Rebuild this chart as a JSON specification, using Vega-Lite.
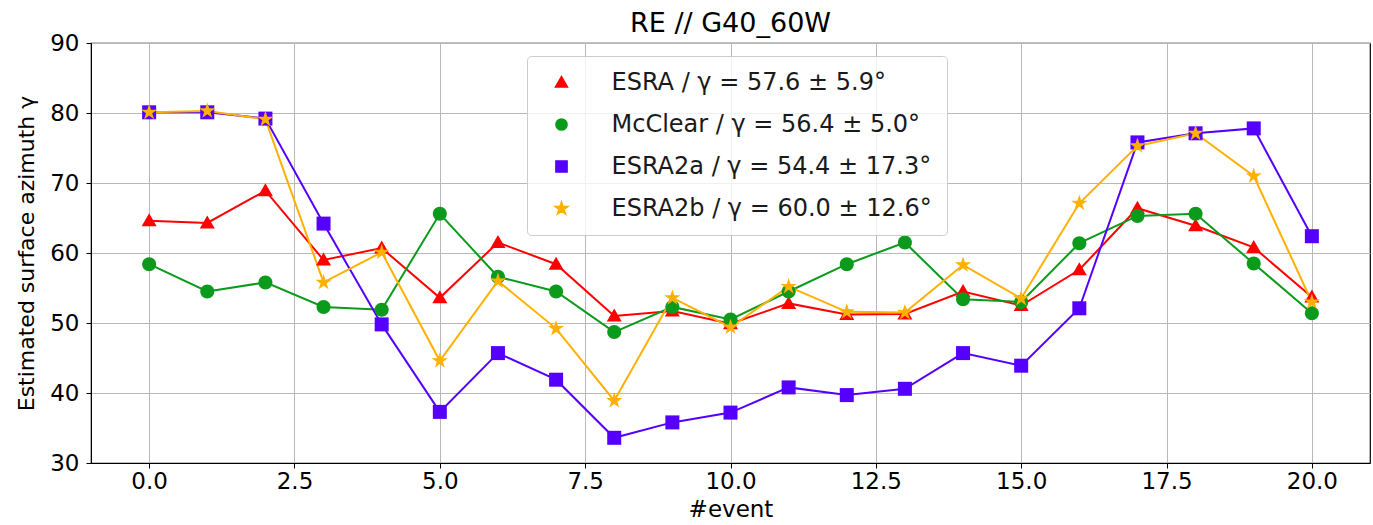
{
  "$schema": "https://vega.github.io/schema/vega-lite/v6.json",
  "autosize": {"type": "none"},
  "width": 1279,
  "height": 420,
  "padding": {"left": 91, "top": 43, "right": 3, "bottom": 62},
  "background": "white",
  "title": {"text": "RE // G40_60W", "fontSize": 27, "font": "DejaVu Sans", "fontWeight": "normal", "color": "#000000", "offset": -6},
  "config": {
    "font": "DejaVu Sans",
    "view": {"stroke": "#000000", "strokeWidth": 1.2},
    "axis": {
      "domainColor": "#000000", "tickColor": "#000000", "labelColor": "#000000", "titleColor": "#000000",
      "gridColor": "#b8b8b8", "gridWidth": 1, "tickSize": 5, "labelFontSize": 23, "titleFontSize": 23,
      "titleFontWeight": "normal", "labelFont": "DejaVu Sans", "titleFont": "DejaVu Sans"
    }
  },
  "datasets": {
    "pts": [
      {"event": 0, "series": "ESRA", "value": 64.6}, {"event": 1, "series": "ESRA", "value": 64.3}, {"event": 2, "series": "ESRA", "value": 68.9},
      {"event": 3, "series": "ESRA", "value": 59.0}, {"event": 4, "series": "ESRA", "value": 60.7}, {"event": 5, "series": "ESRA", "value": 53.6},
      {"event": 6, "series": "ESRA", "value": 61.5}, {"event": 7, "series": "ESRA", "value": 58.4}, {"event": 8, "series": "ESRA", "value": 51.0},
      {"event": 9, "series": "ESRA", "value": 51.7}, {"event": 10, "series": "ESRA", "value": 49.9}, {"event": 11, "series": "ESRA", "value": 52.8},
      {"event": 12, "series": "ESRA", "value": 51.2}, {"event": 13, "series": "ESRA", "value": 51.3}, {"event": 14, "series": "ESRA", "value": 54.5},
      {"event": 15, "series": "ESRA", "value": 52.5}, {"event": 16, "series": "ESRA", "value": 57.6}, {"event": 17, "series": "ESRA", "value": 66.4},
      {"event": 18, "series": "ESRA", "value": 63.9}, {"event": 19, "series": "ESRA", "value": 60.8}, {"event": 20, "series": "ESRA", "value": 53.7},
      {"event": 0, "series": "McClear", "value": 58.4}, {"event": 1, "series": "McClear", "value": 54.5}, {"event": 2, "series": "McClear", "value": 55.8},
      {"event": 3, "series": "McClear", "value": 52.3}, {"event": 4, "series": "McClear", "value": 51.9}, {"event": 5, "series": "McClear", "value": 65.6},
      {"event": 6, "series": "McClear", "value": 56.6}, {"event": 7, "series": "McClear", "value": 54.5}, {"event": 8, "series": "McClear", "value": 48.7},
      {"event": 9, "series": "McClear", "value": 52.3}, {"event": 10, "series": "McClear", "value": 50.5}, {"event": 11, "series": "McClear", "value": 54.5},
      {"event": 12, "series": "McClear", "value": 58.4}, {"event": 13, "series": "McClear", "value": 61.5}, {"event": 14, "series": "McClear", "value": 53.4},
      {"event": 15, "series": "McClear", "value": 53.0}, {"event": 16, "series": "McClear", "value": 61.4}, {"event": 17, "series": "McClear", "value": 65.3},
      {"event": 18, "series": "McClear", "value": 65.6}, {"event": 19, "series": "McClear", "value": 58.5}, {"event": 20, "series": "McClear", "value": 51.4},
      {"event": 0, "series": "ESRA2a", "value": 80.1}, {"event": 1, "series": "ESRA2a", "value": 80.1}, {"event": 2, "series": "ESRA2a", "value": 79.2},
      {"event": 3, "series": "ESRA2a", "value": 64.2}, {"event": 4, "series": "ESRA2a", "value": 49.8}, {"event": 5, "series": "ESRA2a", "value": 37.3},
      {"event": 6, "series": "ESRA2a", "value": 45.7}, {"event": 7, "series": "ESRA2a", "value": 41.9}, {"event": 8, "series": "ESRA2a", "value": 33.6},
      {"event": 9, "series": "ESRA2a", "value": 35.8}, {"event": 10, "series": "ESRA2a", "value": 37.2}, {"event": 11, "series": "ESRA2a", "value": 40.8},
      {"event": 12, "series": "ESRA2a", "value": 39.7}, {"event": 13, "series": "ESRA2a", "value": 40.6}, {"event": 14, "series": "ESRA2a", "value": 45.7},
      {"event": 15, "series": "ESRA2a", "value": 43.9}, {"event": 16, "series": "ESRA2a", "value": 52.1}, {"event": 17, "series": "ESRA2a", "value": 75.8},
      {"event": 18, "series": "ESRA2a", "value": 77.1}, {"event": 19, "series": "ESRA2a", "value": 77.8}, {"event": 20, "series": "ESRA2a", "value": 62.4},
      {"event": 0, "series": "ESRA2b", "value": 80.1}, {"event": 1, "series": "ESRA2b", "value": 80.3}, {"event": 2, "series": "ESRA2b", "value": 79.1},
      {"event": 3, "series": "ESRA2b", "value": 55.8}, {"event": 4, "series": "ESRA2b", "value": 60.1}, {"event": 5, "series": "ESRA2b", "value": 44.6},
      {"event": 6, "series": "ESRA2b", "value": 56.0}, {"event": 7, "series": "ESRA2b", "value": 49.2}, {"event": 8, "series": "ESRA2b", "value": 38.9},
      {"event": 9, "series": "ESRA2b", "value": 53.6}, {"event": 10, "series": "ESRA2b", "value": 49.4}, {"event": 11, "series": "ESRA2b", "value": 55.2},
      {"event": 12, "series": "ESRA2b", "value": 51.6}, {"event": 13, "series": "ESRA2b", "value": 51.5}, {"event": 14, "series": "ESRA2b", "value": 58.3},
      {"event": 15, "series": "ESRA2b", "value": 53.5}, {"event": 16, "series": "ESRA2b", "value": 67.1}, {"event": 17, "series": "ESRA2b", "value": 75.3},
      {"event": 18, "series": "ESRA2b", "value": 77.1}, {"event": 19, "series": "ESRA2b", "value": 71.0}, {"event": 20, "series": "ESRA2b", "value": 53.0}
    ]
  },
  "data": {"name": "pts"},
  "encoding": {
    "x": {
      "field": "event", "type": "quantitative",
      "scale": {"domain": [-1, 21], "nice": false, "zero": false},
      "axis": {"values": [0, 2.5, 5, 7.5, 10, 12.5, 15, 17.5, 20], "format": ".1f", "title": "#event", "labelPadding": 2, "titlePadding": 5, "grid": true}
    },
    "y": {
      "field": "value", "type": "quantitative",
      "scale": {"domain": [30, 90], "nice": false, "zero": false},
      "axis": {"values": [30, 40, 50, 60, 70, 80, 90], "title": "Estimated surface azimuth γ", "titleFontSize": 22, "labelPadding": 7, "titlePadding": 11, "grid": true}
    },
    "color": {
      "field": "series", "type": "nominal",
      "scale": {"domain": ["ESRA", "McClear", "ESRA2a", "ESRA2b"], "range": ["#ff0000", "#0c9a1c", "#5500ff", "#ffb000"]},
      "legend": {
        "orient": "none", "legendX": 436, "legendY": 13, "title": null,
        "labelFontSize": 24, "labelFont": "DejaVu Sans", "labelColor": "#1a1a1a", "labelLimit": 600,
        "symbolSize": 256, "symbolOffset": 8, "labelOffset": 38, "rowPadding": 18,
        "padding": 14.5, "strokeColor": "#cccccc", "fillColor": "rgba(255,255,255,0.8)", "cornerRadius": 4,
        "labelExpr": "datum.value === 'ESRA' ? 'ESRA / γ = 57.6 ± 5.9°' : datum.value === 'McClear' ? 'McClear / γ = 56.4 ± 5.0°' : datum.value === 'ESRA2a' ? 'ESRA2a / γ = 54.4 ± 17.3°' : 'ESRA2b / γ = 60.0 ± 12.6°'"
      }
    },
    "shape": {
      "field": "series", "type": "nominal",
      "scale": {
        "domain": ["ESRA", "McClear", "ESRA2a", "ESRA2b"],
        "range": [
          "M0,-0.75L0.75,0.55L-0.75,0.55Z",
          "M0.7,0A0.7,0.7,0,1,1,-0.7,0A0.7,0.7,0,1,1,0.7,0Z",
          "M-0.7,-0.7H0.7V0.7H-0.7Z",
          "M0,-0.85L0.19,-0.261L0.808,-0.263L0.307,0.099L0.5,0.688L0,0.323L-0.5,0.688L-0.307,0.099L-0.808,-0.263L-0.19,-0.261Z"
        ]
      },
      "legend": null
    }
  },
  "layer": [
    {
      "mark": {"type": "line", "strokeWidth": 2},
      "encoding": {"shape": {"value": "circle"}}
    },
    {
      "mark": {"type": "point", "filled": true, "opacity": 1, "size": 400}
    }
  ]
}
